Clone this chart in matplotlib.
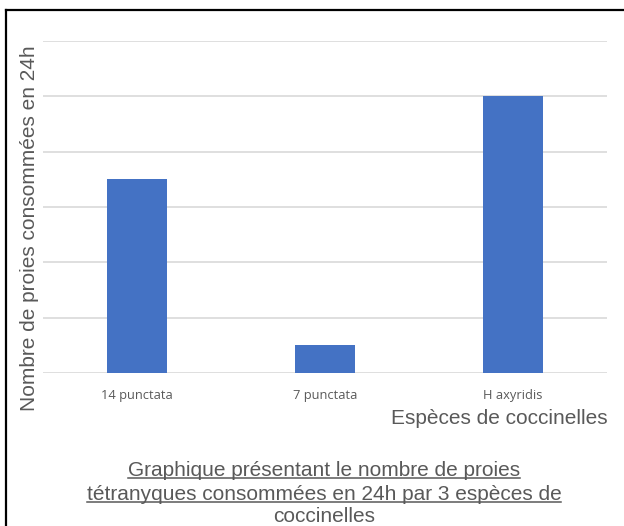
import numpy as np
import matplotlib.pyplot as plt
from matplotlib.lines import Line2D

especes = ['14 punctata', '7 punctata', 'H axyridis']
proies = [3.5, 0.5, 5.0]
grille = [0, 1, 2, 3, 4, 5, 6]

titre = ['Graphique présentant le nombre de proies',
         'tétranyques consommées en 24h par 3 espèces de',
         'coccinelles']

plt.rcParams['font.family'] = ['Liberation Sans', 'DejaVu Sans']

fig = plt.figure(figsize=(6.24, 5.26), dpi=100)
W, H = 624., 526.

# frame of the chart area (cut at right and bottom)
fig.add_artist(Line2D([6/W, 6/W], [0, 1-10/H], color='black', lw=1.6))
fig.add_artist(Line2D([6/W, 1], [1-10/H, 1-10/H], color='black', lw=1.6))

# axes: x 43..607, y 41..373 (px)
ax = fig.add_axes([43/W, 1-373/H, (607-43)/W, (373-41)/H])
x = np.arange(len(especes))
ax.bar(x, proies, width=0.315, color='#4472C4', zorder=3)
ax.set_xlim(-0.5, len(especes)-0.5)
ax.set_ylim(0, 6)
ax.set_yticks(grille)
ax.yaxis.grid(True, color='#d9d9d9', lw=1.2, zorder=0)
ax.tick_params(axis='y', left=False, labelleft=False)
ax.tick_params(axis='x', bottom=False, pad=8, labelsize=9.3, labelcolor='#595959')
ax.set_xticks(x)
ax.set_xticklabels(especes, family=['Open Sans', 'DejaVu Sans'])
for s in ax.spines.values():
    s.set_visible(False)
ax.set_facecolor('none')

fig.text(608/W, 1-418/H, 'Espèces de coccinelles', ha='right', va='center',
         fontsize=15, color='#595959')
fig.text(30/W, 1-228/H, 'Nombre de proies consommées en 24h', ha='center',
         va='center', rotation=90, fontsize=15, color='#595959')

# underlined title at the bottom
ys = [470, 494, 517]
fig.canvas.draw()
r = fig.canvas.get_renderer()
for i, (t, y) in enumerate(zip(titre, ys)):
    tx = fig.text(324/W, 1-y/H, t, ha='center', va='center', fontsize=15,
                  color='#595959')
    if i < 2:
        bb = tx.get_window_extent(renderer=r).transformed(fig.transFigure.inverted())
        fig.add_artist(Line2D([bb.x0, bb.x1], [bb.y0 + 2/H, bb.y0 + 2/H],
                              color='#595959', lw=1.1))

fig.savefig('out.png', dpi=100)
